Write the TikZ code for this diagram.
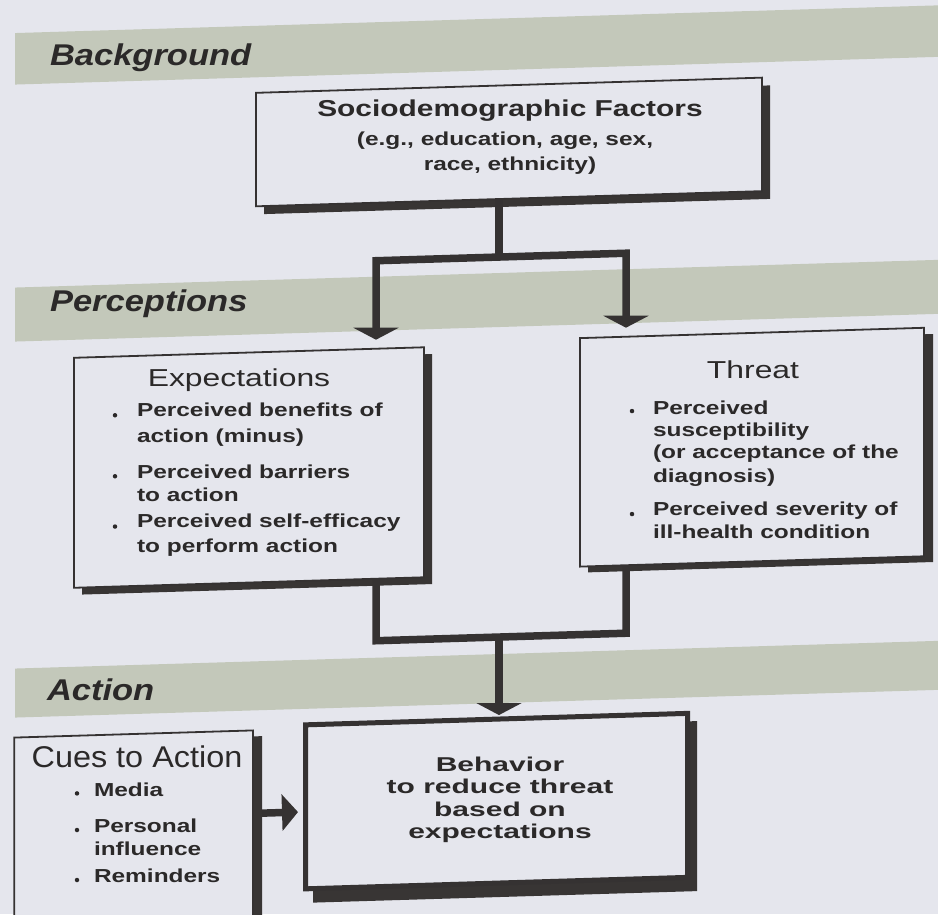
\documentclass[tikz,border=0pt]{standalone}
\usepackage{fontspec}
\usetikzlibrary{arrows.meta,calc}
\newfontfamily\wfont[FakeStretch=1.3]{Liberation Sans}
\newfontfamily\xfont[FakeStretch=1.5]{Liberation Sans}
\newfontfamily\cfont[FakeStretch=1.08]{Liberation Sans}
\newfontfamily\lfont[FakeStretch=1.15]{Liberation Sans}
\newcommand\myS{\wfont\bfseries\fontsize{18.8}{22}\selectfont}
\newcommand\myB{\wfont\bfseries\fontsize{23}{26}\selectfont}
\newcommand\myX{\xfont\bfseries\fontsize{20}{24}\selectfont}
\newcommand\myH{\wfont\fontsize{24.5}{28}\selectfont}
\newcommand\myC{\cfont\fontsize{30}{34}\selectfont}
\newcommand\myL{\lfont\bfseries\itshape\fontsize{30}{34}\selectfont}
\definecolor{pagec}{HTML}{E5E6ED}
\definecolor{bandc}{HTML}{C3C8BA}
\definecolor{linec}{HTML}{353232}
\definecolor{shadowc}{HTML}{383534}
\definecolor{textc}{HTML}{2B2929}
\tikzset{
  box/.style={draw=linec, line width=1.8pt, fill=pagec, inner sep=0pt, outer sep=0pt, anchor=north west},
  thickbox/.style={box, line width=5pt},
  shad/.style={fill=shadowc},
  band/.style={fill=bandc},
  txt/.style={inner sep=0pt, outer sep=0pt, text=textc},
  bul/.style={circle, fill=textc, inner sep=0pt, minimum size=4.5pt},
  conn/.style={draw=linec, line width=7.5pt},
  arrD/.style={conn, -{Triangle[width=45pt,length=12pt]}},
  arrR/.style={conn, -{Triangle[width=36pt,length=16pt]}}
}
\begin{document}
\begin{tikzpicture}[x=1pt,y=-1pt]
\useasboundingbox[fill=pagec] (0,0) rectangle (938,914);
\begin{scope}[yslant=0.03, transform shape]
% bands
\fill[band] (15,33.5) rectangle (970,85);
\fill[band] (15,288) rectangle (970,342);
\fill[band] (15,669) rectangle (970,718);
% shadows
\fill[shad] (264,108.5) rectangle (770,222);
\fill[shad] (82,367) rectangle (432,597);
\fill[shad] (588,362) rectangle (933,590);
\fill[shad] (313,742) rectangle (697,912);
\fill[shad] (22,744) rectangle (262,945);
% boxes
\node[box, minimum width=506pt, minimum height=113.5pt] (socio) at (256,100.5) {};
\node[box, minimum width=350pt, minimum height=230pt] (expect) at (74,360) {};
\node[box, minimum width=344pt, minimum height=228.5pt] (threat) at (580,355.5) {};
\node[thickbox, minimum width=382pt, minimum height=164pt] (behav) at (305.5,734) {};
\node[box, minimum width=238.7pt, minimum height=200pt] (cues) at (14.3,738) {};
% connectors
\coordinate (j1) at (499,272);
\coordinate (j1l) at (376,272);
\coordinate (j1r) at (626,272);
\coordinate (j2) at (499,652);
\coordinate (j2l) at (376,652);
\coordinate (j2r) at (626,652);
\coordinate (ca) at (262,821);
\draw[conn] ($(socio.south west)!(j1)!(socio.south east)$) -- (j1);
\draw[arrD, shorten >=9pt] (j1) -- (j1l) -- ($(expect.north west)!(j1l)!(expect.north east)$);
\draw[arrD, shorten >=9pt] (j1) -- (j1r) -- ($(threat.north west)!(j1r)!(threat.north east)$);
\draw[conn] ($(expect.south west)!(j2l)!(expect.south east)$) -- (j2l) -- (j2r) -- ($(threat.south west)!(j2r)!(threat.south east)$);
\draw[arrD, shorten >=4pt] (j2) -- ($(behav.north west)!(j2)!(behav.north east)$);
\draw[arrR, shorten >=7.5pt] (ca) -- ($(behav.north west)!(ca)!(behav.south west)$);
\end{scope}
\begin{scope}[yslant=0.03]
% band labels
\node[txt, anchor=base west] (lb1) at (50,66.5) {\myL Background};
\node[txt, anchor=base west] (lb2) at (50,313) {\myL Perceptions};
\node[txt, anchor=base west] (lb3) at (47,701.4) {\myL Action};
% socio text
\node[txt, anchor=base] (s1) at (510,132) {\myB Sociodemographic Factors};
\node[txt, anchor=base] (s2) at (505,160.5) {\myS (e.g., education, age, sex,};
\node[txt, anchor=base] (s3) at (510,185.5) {\myS race, ethnicity)};
% expectations
\node[txt, anchor=base] (eh) at (239,393.5) {\myH Expectations};
\node[bul] (eb1) at (115,418.7) {};
\node[bul] (eb2) at (115,479.7) {};
\node[bul] (eb3) at (115,530) {};
\node[txt, anchor=base west] (e1a) at (137,420.4) {\myS Perceived benefits of};
\node[txt, anchor=base west] (e1b) at (137,446.2) {\myS action (minus)};
\node[txt, anchor=base west] (e2a) at (137,482.2) {\myS Perceived barriers};
\node[txt, anchor=base west] (e2b) at (137,505.5) {\myS to action};
\node[txt, anchor=base west] (e3a) at (137,531.7) {\myS Perceived self-efficacy};
\node[txt, anchor=base west] (e3b) at (137,556.2) {\myS to perform action};
% threat
\node[txt, anchor=base] (th) at (753,400.8) {\myH Threat};
\node[bul] (tb1) at (632,430) {};
\node[bul] (tb2) at (632,533) {};
\node[txt, anchor=base west] (t1a) at (653,433.9) {\myS Perceived};
\node[txt, anchor=base west] (t1b) at (653,456.1) {\myS susceptibility};
\node[txt, anchor=base west] (t1c) at (653,477.7) {\myS (or acceptance of the};
\node[txt, anchor=base west] (t1d) at (653,502.2) {\myS diagnosis)};
\node[txt, anchor=base west] (t2a) at (653,534.8) {\myS Perceived severity of};
\node[txt, anchor=base west] (t2b) at (653,557.7) {\myS ill-health condition};
% cues
\node[txt, anchor=base] (ch) at (137,771.8) {\myC Cues to Action};
\node[bul] (cb1) at (77,795.7) {};
\node[bul] (cb2) at (77,832.3) {};
\node[bul] (cb3) at (77,882.3) {};
\node[txt, anchor=base west] (c1) at (94,799.7) {\myS Media};
\node[txt, anchor=base west] (c2a) at (94,835.8) {\myS Personal};
\node[txt, anchor=base west] (c2b) at (94,858) {\myS influence};
\node[txt, anchor=base west] (c3) at (94,885.4) {\myS Reminders};
% behavior
\node[txt, anchor=base] (b1) at (500,786) {\myX Behavior};
\node[txt, anchor=base] (b2) at (500,808.5) {\myX to reduce threat};
\node[txt, anchor=base] (b3) at (500,831) {\myX based on};
\node[txt, anchor=base] (b4) at (500,853.5) {\myX expectations};
\end{scope}
\end{tikzpicture}
\end{document}
